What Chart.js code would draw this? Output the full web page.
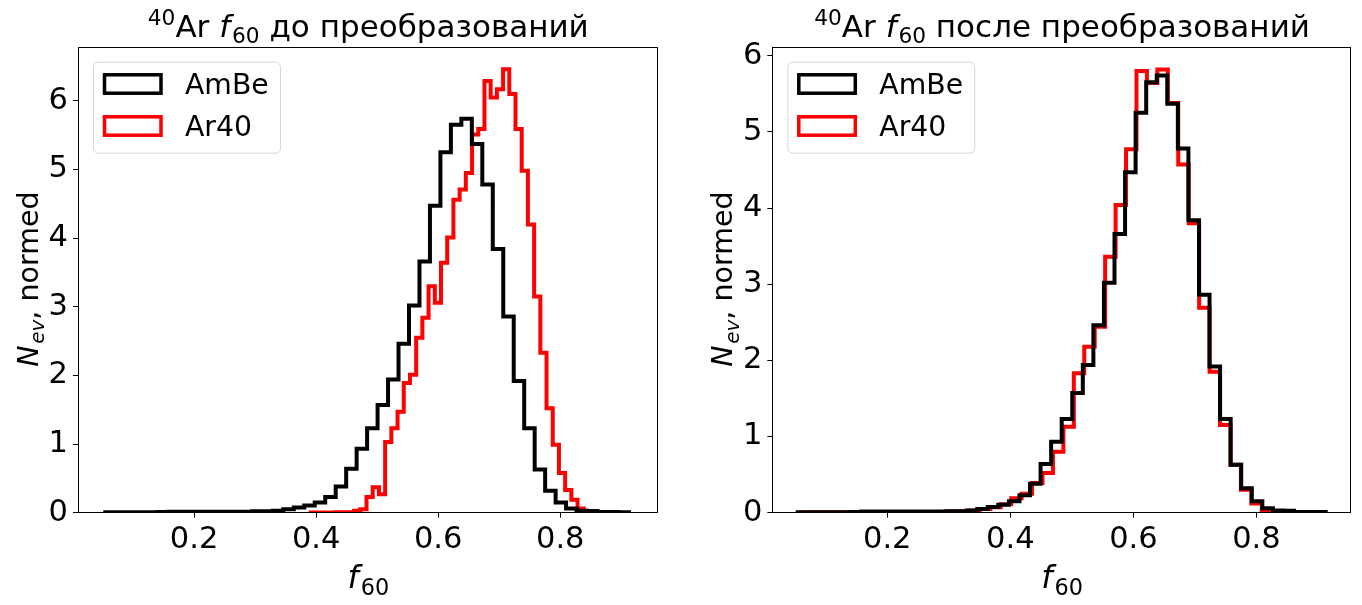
<!DOCTYPE html>
<html lang="ru">
<head>
    <meta charset="UTF-8">
    <title>40Ar f60 до и после преобразований</title>
    <style>
        body { margin: 0; background: #fff; }
        #wrap { position: relative; width: 1362px; height: 605px; }
        #wrap canvas { position: absolute; top: 0; }
    </style>
</head>
<body>
    <div id="wrap">
        <canvas id="before" width="681" height="605" style="left:0"></canvas>
        <canvas id="after" width="681" height="605" style="left:681px"></canvas>
    </div>

    <script src="https://cdn.jsdelivr.net/npm/chart.js"></script>
    <script>
        // ---- данные ----
        const seriesNames = ['AmBe', 'Ar40'];
        const xTicks = [0.2, 0.4, 0.6, 0.8];
        const yTicks = [0, 1, 2, 3, 4, 5, 6];

        // AmBe: одна и та же гистограмма на обоих графиках, 50 бинов
        const ambeRange = [0.0545, 0.9125];
        const ambe = [
            0.005, 0.005, 0.005, 0.005, 0.005, 0.01, 0.015, 0.015, 0.015, 0.015,
            0.015, 0.015, 0.015, 0.015, 0.02, 0.02, 0.03, 0.05, 0.075, 0.105,
            0.15, 0.23, 0.38, 0.64, 0.93, 1.23, 1.57, 1.94, 2.46, 3.02,
            3.66, 4.47, 5.25, 5.65, 5.74, 5.37, 4.78, 3.84, 2.86, 1.92,
            1.23, 0.63, 0.32, 0.15, 0.06, 0.03, 0.025, 0.01, 0.01, 0.008
        ];

        // Ar40 до преобразований
        const ar40BeforeRange = [0.391, 0.8487];
        const ar40Before = [
            0.003, 0.003, 0.003, 0.003, 0.008, 0.008, 0.008, 0.03, 0.05, 0.23,
            0.37, 0.27, 1.03, 1.23, 1.47, 1.89, 2.01, 2.55, 2.84, 3.30,
            3.06, 3.64, 4.01, 4.56, 4.71, 4.95, 5.51, 5.59, 6.29, 6.05,
            6.17, 6.46, 6.10, 5.59, 4.98, 4.20, 3.15, 2.33, 1.52, 0.99,
            0.58, 0.33, 0.19, 0.06, 0.015
        ];

        // Ar40 после преобразований
        const ar40AfterRange = [0.062, 0.8935];
        const ar40After = [
            0.005, 0.005, 0.005, 0.005, 0.005, 0.01, 0.01, 0.01, 0.01, 0.01,
            0.01, 0.01, 0.01, 0.01, 0.015, 0.02, 0.03, 0.05, 0.07, 0.11,
            0.19, 0.25, 0.39, 0.52, 0.80, 1.13, 1.83, 2.18, 2.44, 3.36,
            4.04, 4.77, 5.80, 5.64, 5.82, 5.38, 4.57, 3.80, 2.69, 1.85,
            1.15, 0.63, 0.30, 0.12, 0.035, 0.01, 0.005, 0.005, 0.005
        ];

        // подписи (it = курсив, pos = sup/sub)
        const titleBefore = [{ t: '40', pos: 'sup' }, { t: 'Ar ' }, { t: 'f', it: true }, { t: '60', pos: 'sub' }, { t: ' до преобразований' }];
        const titleAfter = [{ t: '40', pos: 'sup' }, { t: 'Ar ' }, { t: 'f', it: true }, { t: '60', pos: 'sub' }, { t: ' после преобразований' }];
        const xLabel = [{ t: 'f', it: true }, { t: '60', pos: 'sub' }];
        const yLabel = [{ t: 'N', it: true }, { t: 'ev', it: true, pos: 'sub' }, { t: ', normed' }];

        const family = '"DejaVu Sans", sans-serif';
        const colors = ['#000000', '#ff0000'];

        function stepPoints(range, vals) {
            const w = (range[1] - range[0]) / vals.length;
            const pts = [{ x: range[0], y: 0 }];
            vals.forEach((v, i) => pts.push({ x: range[0] + i * w, y: v }));
            pts.push({ x: range[1], y: 0 });
            return pts;
        }

        function partFont(p, size) {
            const s = p.pos ? size * 0.7 : size;
            return (p.it ? 'italic ' : '') + s + 'px ' + family;
        }

        // текст с индексами, x - центр, y - базовая линия
        function drawRich(ctx, parts, x, y, size) {
            let w = 0;
            parts.forEach(p => { ctx.font = partFont(p, size); w += ctx.measureText(p.t).width; });
            let cx = x - w / 2;
            ctx.textAlign = 'left';
            ctx.textBaseline = 'alphabetic';
            ctx.fillStyle = '#000';
            parts.forEach(p => {
                ctx.font = partFont(p, size);
                const dy = p.pos === 'sup' ? -0.38 * size : (p.pos === 'sub' ? 0.22 * size : 0);
                ctx.fillText(p.t, cx, y + dy);
                cx += ctx.measureText(p.t).width + (p.it && !p.pos ? size * 0.06 : 0);
            });
        }

        const panelDecor = {
            id: 'panelDecor',
            afterDatasetsDraw(chart, args, opts) {
                const ctx = chart.ctx;
                const a = chart.chartArea;
                ctx.save();

                // рамка
                ctx.strokeStyle = '#000';
                ctx.lineWidth = 1;
                ctx.strokeRect(Math.round(a.left) + 0.5, Math.round(a.top) + 0.5,
                    Math.round(a.right - a.left), Math.round(a.bottom - a.top));

                // легенда
                const bx = a.left + 15, by = a.top + 14.4;
                ctx.beginPath();
                ctx.roundRect(bx + 0.5, by + 0.5, 187, 91, 5);
                ctx.fillStyle = 'rgba(255,255,255,0.8)';
                ctx.fill();
                ctx.strokeStyle = 'rgba(204,204,204,0.8)';
                ctx.lineWidth = 1;
                ctx.stroke();
                chart.data.datasets.forEach((ds, i) => {
                    const cy = a.top + 36.7 + i * 42;
                    ctx.strokeStyle = ds.borderColor;
                    ctx.lineWidth = 3.5;
                    ctx.strokeRect(a.left + 26.5, cy - 9.2, 56.5, 18.4);
                    ctx.fillStyle = '#000';
                    ctx.font = '28.3px ' + family;
                    ctx.textAlign = 'left';
                    ctx.textBaseline = 'alphabetic';
                    ctx.fillText(ds.label, a.left + 107, cy + 10);
                });

                // заголовок и подписи осей
                const mid = (a.left + a.right) / 2;
                drawRich(ctx, opts.title, mid, 36.5, 31);
                drawRich(ctx, xLabel, mid, 588, 32);
                ctx.translate(a.left - 40, (a.top + a.bottom) / 2);
                ctx.rotate(-Math.PI / 2);
                drawRich(ctx, yLabel, 0, 0, 28.5);
                ctx.restore();
            }
        };

        function makePanel(id, title, arRange, arVals, xMin, xMax, yMax, axisWidth, padRight) {
            const tickFont = { family: family, size: 30.5 };
            const tickGrid = { display: true, drawOnChartArea: false, drawTicks: true, tickLength: 5, color: '#000', lineWidth: 1 };
            new Chart(document.getElementById(id), {
                type: 'line',
                data: {
                    datasets: [
                        { label: seriesNames[0], data: stepPoints(ambeRange, ambe), borderColor: colors[0] },
                        { label: seriesNames[1], data: stepPoints(arRange, arVals), borderColor: colors[1] }
                    ]
                },
                options: {
                    responsive: false,
                    animation: false,
                    layout: { padding: { top: 47.3, right: padRight, left: 0, bottom: 0 } },
                    datasets: {
                        line: { stepped: true, borderWidth: 4, pointRadius: 0, fill: false, tension: 0, clip: 0 }
                    },
                    plugins: {
                        legend: { display: false },
                        tooltip: { enabled: false },
                        panelDecor: { title: title }
                    },
                    scales: {
                        x: {
                            type: 'linear', min: xMin, max: xMax,
                            afterBuildTicks: s => { s.ticks = xTicks.map(v => ({ value: v })); },
                            afterFit: s => { s.height = 92.3; s.paddingLeft = 0; s.paddingRight = 0; },
                            ticks: { font: tickFont, color: '#000', padding: 4, maxRotation: 0, autoSkip: false, callback: v => v.toFixed(1) },
                            grid: tickGrid,
                            border: { display: false }
                        },
                        y: {
                            type: 'linear', min: 0, max: yMax,
                            afterBuildTicks: s => { s.ticks = yTicks.map(v => ({ value: v })); },
                            afterFit: s => { s.width = axisWidth; s.paddingTop = 0; s.paddingBottom = 0; },
                            ticks: { font: tickFont, color: '#000', padding: 5, callback: v => String(v) },
                            grid: tickGrid,
                            border: { display: false }
                        }
                    }
                },
                plugins: [panelDecor]
            });
        }

        makePanel('before', titleBefore, ar40BeforeRange, ar40Before, 0.0098, 0.958, 6.78, 78, 24.3);
        makePanel('after', titleAfter, ar40AfterRange, ar40After, 0.0132, 0.952, 6.11, 91.3, 12);
    </script>
</body>
</html>
